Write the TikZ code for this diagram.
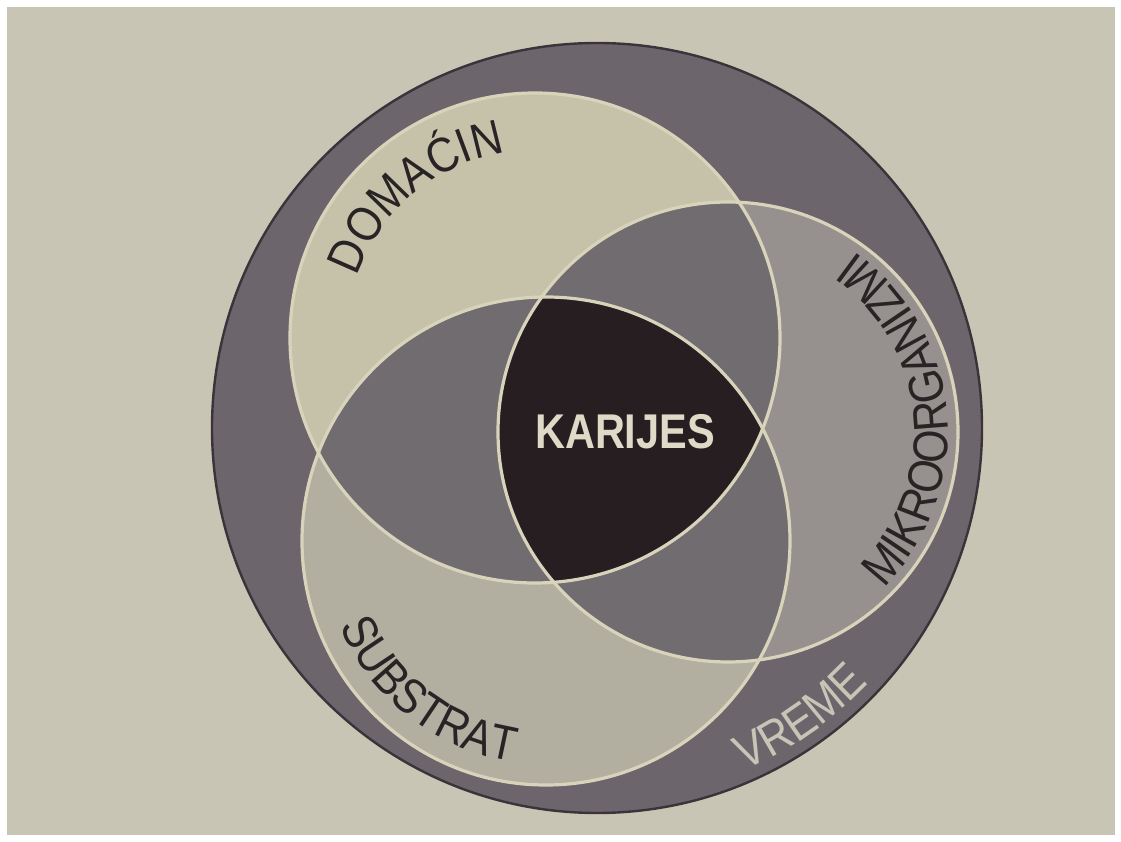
\documentclass[tikz,border=0pt]{standalone}
\usepackage{fontspec}
\setmainfont{Liberation Sans}
\newfontfamily\lblfont[FakeStretch=0.88]{Liberation Sans}
\newfontfamily\ctrfont[FakeStretch=0.85]{Liberation Sans}
\usetikzlibrary{decorations.text}
\definecolor{paper}{RGB}{201,197,180}
\definecolor{ring}{RGB}{108,102,108}
\definecolor{edgec}{RGB}{58,52,58}
\definecolor{donly}{RGB}{198,194,170}
\definecolor{sonly}{RGB}{178,174,160}
\definecolor{monly}{RGB}{150,145,142}
\definecolor{pairc}{RGB}{113,108,112}
\definecolor{corec}{RGB}{38,30,32}
\definecolor{sepc}{RGB}{216,212,188}
\definecolor{ink}{RGB}{40,36,38}
\definecolor{lightink}{RGB}{222,218,200}
\definecolor{vink}{RGB}{200,196,182}
\tikzset{
  sepline/.style={draw=sepc, line width=1.6pt},
  ctr/.style={text=lightink, font=\ctrfont\bfseries\fontsize{24.4}{28}\selectfont, inner sep=0pt},
}
\newcommand{\lbl}{\lblfont\fontsize{24.4}{28}\selectfont}
\begin{document}
\begin{tikzpicture}[x=0.5pt,y=0.5pt]
\useasboundingbox (0,0) rectangle (1121,842);
\fill[white] (0,0) rectangle (1121,842);
\fill[paper] (7,7) rectangle (1115,835);
\coordinate (O) at (597,414);
\coordinate (D) at (535,504);
\coordinate (M) at (728,410);
\coordinate (S) at (546,301);
% outer ring
\fill[ring] (O) circle[radius=385];
\draw[edgec, line width=1.2pt] (O) circle[radius=385];
% single regions
\fill[donly] (D) circle[radius=245];
\fill[monly] (M) circle[radius=230];
\fill[sonly] (S) circle[radius=244];
% pairwise
\begin{scope}
  \clip (D) circle[radius=245];
  \fill[pairc] (M) circle[radius=230];
  \fill[pairc] (S) circle[radius=244];
\end{scope}
\begin{scope}
  \clip (M) circle[radius=230];
  \fill[pairc] (S) circle[radius=244];
\end{scope}
% triple
\begin{scope}
  \clip (D) circle[radius=245];
  \clip (M) circle[radius=230];
  \fill[corec] (S) circle[radius=244];
\end{scope}
% outlines
\draw[sepline] (D) circle[radius=245];
\draw[sepline] (M) circle[radius=230];
\draw[sepline] (S) circle[radius=244];
% labels
\node[ctr] (karijes) at (625,410) {KARIJES};
\path[decorate, decoration={text along path, text align=center, text color=ink,
  text={|\lbl|DOMAĆIN}}]
  ([shift={(182:188)}]D) arc[start angle=182, end angle=78, radius=188];
\path[decorate, decoration={text along path, text align=center, text color=ink,
  text={|\lbl|MIKROORGANIZMI}}]
  ([shift={(-75:220)}]M) arc[start angle=-75, end angle=85, radius=220];
\path[decorate, decoration={text along path, text align=center, text color=ink,
  text={|\lbl|SUBSTRAT}}]
  ([shift={(185:223)}]S) arc[start angle=185, end angle=279, radius=223];
\path[decorate, decoration={text along path, text align=center, text color=vink,
  text={|\lbl|VREME}}]
  ([shift={(-85:373)}]O) arc[start angle=-85, end angle=-25, radius=373];
\end{tikzpicture}
\end{document}
